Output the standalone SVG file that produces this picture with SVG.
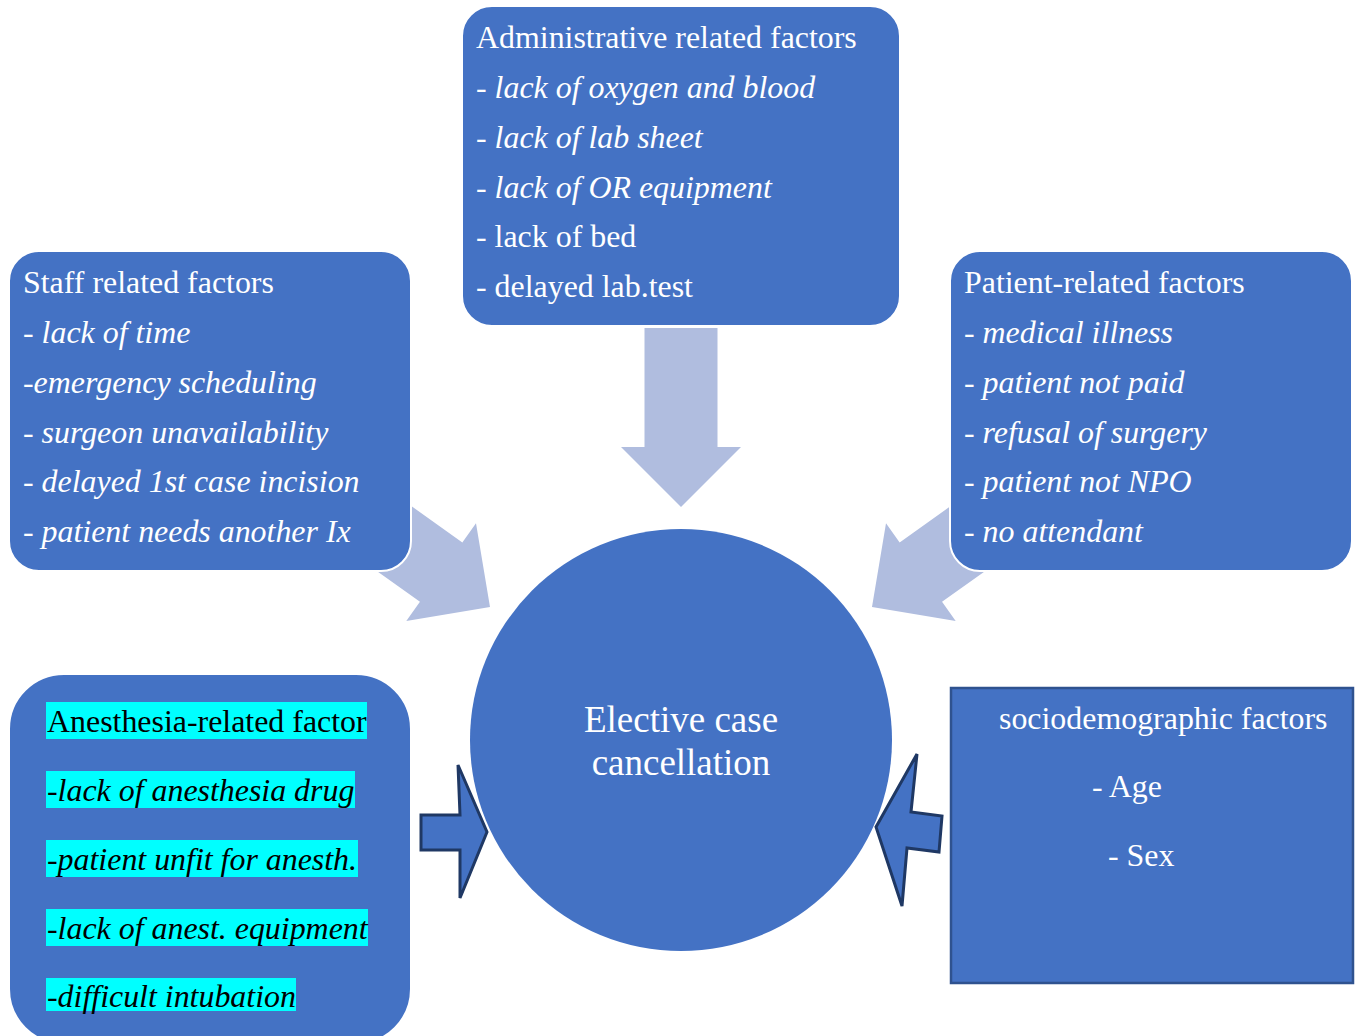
<svg xmlns="http://www.w3.org/2000/svg" width="1361" height="1036" viewBox="0 0 1361 1036">
<style>
.box{fill:#4472C4;stroke:#FFFFFF;stroke-width:2}
.sq{fill:#4472C4;stroke:#2F528F;stroke-width:2.5}
.soft{fill:#B0BDDF}
.blk{fill:#4472C4;stroke:#1F3864;stroke-width:3;stroke-linejoin:miter}
.t{font-family:"Liberation Serif","Times New Roman",serif;font-size:31.9px;fill:#FFFFFF}
.i{font-style:italic}
.k{font-family:"Liberation Serif","Times New Roman",serif;font-size:31.9px;fill:#000000}
.hl{fill:#00FFFF}
.c{font-family:"Liberation Serif","Times New Roman",serif;font-size:37px;fill:#FFFFFF;text-anchor:middle}
</style>
<defs>
<polygon id="arr" points="-179,-36.5 -60,-36.5 -60,-60 0,0 -60,60 -60,36.5 -179,36.5"/>
</defs>
<rect width="1361" height="1036" fill="#FFFFFF"/>
<g id="connectors">
<use href="#arr" class="soft" transform="translate(681,507) rotate(90)"/>
<use href="#arr" class="soft" transform="translate(490,607) rotate(35.5)"/>
<use href="#arr" class="soft" transform="translate(872,607) rotate(144.5)"/>
<polygon class="blk" points="421,815 460,815 458,765 487,832 460,898 460,850 421,850"/>
<polygon class="blk" points="917,754 911,812 942,816 939,852 907,848 902,906 876,827"/>
</g>
<g id="admin">
<rect class="box" x="462" y="6" width="438" height="320" rx="30"/>
<text class="t" x="476" y="48">Administrative related factors</text>
<text class="t i" x="476" y="98">- lack of oxygen and blood</text>
<text class="t i" x="476" y="148">- lack of lab sheet</text>
<text class="t i" x="476" y="198">- lack of OR equipment</text>
<text class="t" x="476" y="247">- lack of bed</text>
<text class="t" x="476" y="297">- delayed lab.test</text>
</g>
<g id="staff">
<rect class="box" x="9" y="251" width="402" height="320" rx="30"/>
<text class="t" x="23" y="293">Staff related factors</text>
<text class="t i" x="23" y="343">- lack of time</text>
<text class="t i" x="23" y="393">-emergency scheduling</text>
<text class="t i" x="23" y="443">- surgeon unavailability</text>
<text class="t i" x="23" y="492">- delayed 1st case incision</text>
<text class="t i" x="23" y="542">- patient needs another Ix</text>
</g>
<g id="patient">
<rect class="box" x="950" y="251" width="402" height="320" rx="30"/>
<text class="t" x="964" y="293">Patient-related factors</text>
<text class="t i" x="964" y="343">- medical illness</text>
<text class="t i" x="964" y="393">- patient not paid</text>
<text class="t i" x="964" y="443">- refusal of surgery</text>
<text class="t i" x="964" y="492">- patient not NPO</text>
<text class="t i" x="964" y="542">- no attendant</text>
</g>
<g id="center">
<circle cx="681" cy="740" r="211" fill="#4472C4"/>
<text class="c" x="681" y="732">Elective case</text>
<text class="c" x="681" y="775">cancellation</text>
</g>
<g id="anesthesia">
<rect class="box" x="9" y="674" width="402" height="370" rx="55"/>
<rect class="hl" x="46" y="702" width="321" height="37"/>
<rect class="hl" x="46" y="771" width="309" height="37"/>
<rect class="hl" x="46" y="840" width="312" height="37"/>
<rect class="hl" x="46" y="909" width="322" height="37"/>
<rect class="hl" x="46" y="978" width="250" height="33"/>
<text class="k" x="47" y="732">Anesthesia-related factor</text>
<text class="k i" x="47" y="801">-lack of anesthesia drug</text>
<text class="k i" x="47" y="870">-patient unfit for anesth.</text>
<text class="k i" x="47" y="939">-lack of anest. equipment</text>
<text class="k i" x="47" y="1007">-difficult intubation</text>
</g>
<g id="socio">
<rect class="sq" x="951" y="688" width="402" height="295"/>
<text class="t" x="999" y="729">sociodemographic factors</text>
<text class="t" x="1092" y="797">- Age</text>
<text class="t" x="1108" y="866">- Sex</text>
</g>
</svg>
